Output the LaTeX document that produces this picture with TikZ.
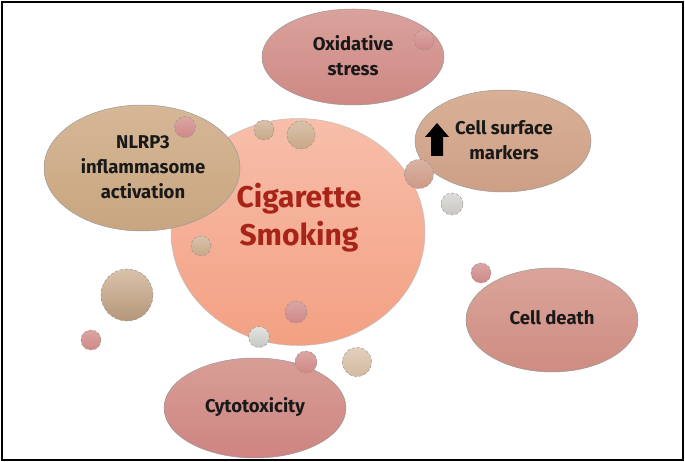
\documentclass[tikz,border=0pt]{standalone}
\usepackage{fontspec}
\setmainfont{Fira Sans}
\usetikzlibrary{shapes.geometric}
\definecolor{txtred}{HTML}{A82418}
\definecolor{cRose}{HTML}{CF8886}
\definecolor{cTan}{HTML}{C9A887}
\definecolor{cGrey}{HTML}{C9C7C2}
\definecolor{cPeach}{HTML}{CD9A85}
\definecolor{mainT}{RGB}{247,190,170}
\definecolor{mainB}{RGB}{243,160,130}
\definecolor{oxT}{RGB}{218,162,156}
\definecolor{oxB}{RGB}{206,136,132}
\definecolor{csT}{RGB}{216,176,150}
\definecolor{csB}{RGB}{205,160,134}
\definecolor{nlT}{RGB}{214,183,150}
\definecolor{nlB}{RGB}{200,165,128}
\definecolor{cdT}{RGB}{218,164,154}
\definecolor{cdB}{RGB}{206,140,130}
\definecolor{cyT}{RGB}{216,158,150}
\definecolor{cyB}{RGB}{206,132,130}
\tikzset{
  blob/.style={ellipse, draw=black!40, line width=0.5pt, inner sep=0pt},
  lbl/.style={font=\bfseries\fontsize{18.5}{25}\selectfont, align=center, text=black!90},
  dot/.style={circle, draw=black!45, line width=0.4pt, densely dashed, inner sep=0pt, minimum size=#1},
}
\begin{document}
\begin{tikzpicture}[x=1pt,y=-1pt]
\useasboundingbox (0,0) rectangle (685,462);
\draw[line width=1.5pt] (2,2) rectangle (683,460);
% main circle
\node[blob, minimum width=254pt, minimum height=227pt, top color=mainT, bottom color=mainB, draw=black!25] (cig) at (298,232) {};
% satellites
\node[blob, minimum width=182pt, minimum height=96pt, top color=oxT, bottom color=oxB] (ox) at (353,57) {};
\node[blob, minimum width=176pt, minimum height=102pt, top color=csT, bottom color=csB] (csm) at (503,141) {};
\node[blob, minimum width=196pt, minimum height=126pt, top color=nlT, bottom color=nlB] (nlrp) at (142,168) {};
\node[blob, minimum width=172pt, minimum height=104pt, top color=cdT, bottom color=cdB] (death) at (552,320) {};
\node[blob, minimum width=182pt, minimum height=100pt, top color=cyT, bottom color=cyB] (cyto) at (255,408) {};
% texts
\node[font=\bfseries\fontsize{30}{38}\selectfont, text=txtred, align=center] (cigt) at (299,218) {Cigarette\\Smoking};
\node[lbl] (oxt) at (353,56) {Oxidative\\stress};
\node[lbl] (csmt) at (504,140) {Cell surface\\markers};
\node[lbl] (nlrpt) at (143,167) {NLRP3\\inflammasome\\activation};
\node[lbl] (deatht) at (552,318) {Cell death};
\node[lbl] (cytot) at (255,407) {Cytotoxicity};
% up arrow
\fill[black] (431,156) -- (431,137) -- (425,137) -- (437,123) -- (449,137) -- (443,137) -- (443,156) -- cycle;
% small bubbles
\node[dot=20pt, top color=cRose!75!white, bottom color=cRose] (b1) at (424,40) {};
\node[dot=21pt, top color=cRose!75!white, bottom color=cRose] (b2) at (185,127) {};
\node[dot=20pt, top color=cTan!70!white, bottom color=cTan] (b3) at (264,130) {};
\node[dot=28pt, top color=cTan!70!white, bottom color=cTan] (b4) at (301,135) {};
\node[dot=29pt, top color=cPeach!75!white, bottom color=cPeach] (b5) at (419,174) {};
\node[dot=22pt, top color=cGrey!60!white, bottom color=cGrey] (b6) at (452,204) {};
\node[dot=20pt, top color=cTan!70!white, bottom color=cTan] (b7) at (201,246) {};
\node[dot=20pt, top color=cRose!75!white, bottom color=cRose] (b8) at (481,273) {};
\node[dot=52pt, top color=cTan!70!white, bottom color=cTan!90!black] (b9) at (127,295) {};
\node[dot=20pt, top color=cRose!75!white, bottom color=cRose] (b10) at (91,340) {};
\node[dot=22pt, top color=cRose!75!white, bottom color=cRose] (b11) at (296,312) {};
\node[dot=21pt, top color=cGrey!50!white, bottom color=cGrey] (b12) at (259,337) {};
\node[dot=22pt, top color=cRose!75!white, bottom color=cRose] (b13) at (306,362) {};
\node[dot=29pt, top color=cTan!55!white, bottom color=cTan!80!white] (b14) at (357,362) {};
\end{tikzpicture}
\end{document}
